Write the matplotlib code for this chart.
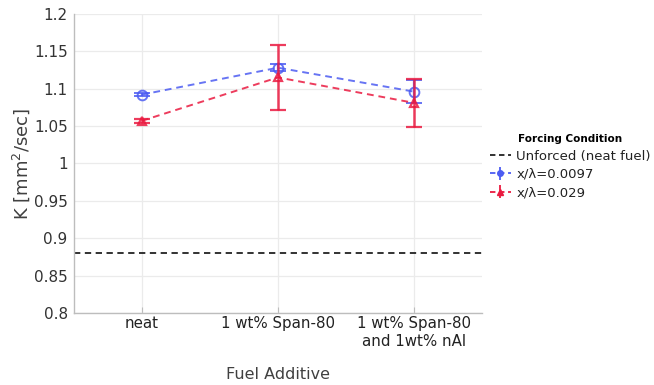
import matplotlib
matplotlib.use("Agg")
import matplotlib.pyplot as plt
from matplotlib.lines import Line2D

categories = ["neat", "1 wt% Span-80", "1 wt% Span-80\nand 1wt% nAl"]
blue_k = [1.092, 1.128, 1.096]
blue_err = [0.002, 0.005, 0.015]
red_k = [1.057, 1.115, 1.081]
red_err = [0.003, 0.043, 0.032]
unforced_k = 0.88
yticks = [0.8, 0.85, 0.9, 0.95, 1.0, 1.05, 1.1, 1.15, 1.2]
ytick_labels = ["0.8", "0.85", "0.9", "0.95", "1", "1.05", "1.1", "1.15", "1.2"]

blue = "#4c5cf2"
red = "#ea1a40"
text_col = "#404040"

plt.rcParams["font.family"] = ["DejaVu Sans"]
fig = plt.figure(figsize=(6.54, 3.85), dpi=100)
ax = fig.add_axes([0.113, 0.187, 0.624, 0.777])

x = list(range(1, len(categories) + 1))

ax.axhline(unforced_k, color="#222222", ls=(0, (3.5, 2.5)), lw=1.3, zorder=2)

ax.errorbar(x, blue_k, yerr=blue_err, color=blue, ls=(0, (3.5, 2.5)), lw=1.4,
            marker="o", ms=7, mfc="none", mew=1.4, capsize=6, capthick=1.6,
            elinewidth=1.6, alpha=0.85, zorder=3)
ax.errorbar(x, red_k, yerr=red_err, color=red, ls=(0, (3.5, 2.5)), lw=1.4,
            marker="^", ms=6, mfc="none", mew=1.6, capsize=6, capthick=1.8,
            elinewidth=1.8, alpha=0.85, zorder=4)

ax.set_xlim(0.5, 3.5)
ax.set_ylim(0.8, 1.2)
ax.set_xticks(x)
ax.set_xticklabels(categories, fontsize=10.8, color="#222222", linespacing=1.25)
ax.set_yticks(yticks)
ax.set_yticklabels(ytick_labels, fontsize=11, color="#333333")
ax.grid(True, color="#ebebeb", lw=0.9)
ax.set_axisbelow(True)
for s in ["top", "right"]:
    ax.spines[s].set_visible(False)
for s in ["left", "bottom"]:
    ax.spines[s].set_color("#bdbdbd")
    ax.spines[s].set_linewidth(1.0)
ax.tick_params(axis="x", length=4, direction="in", color="#bdbdbd", pad=2)
ax.tick_params(axis="y", length=0, pad=4.5)

ax.set_ylabel(r"K [mm$^2$/sec]", fontsize=13, color=text_col)
ax.yaxis.set_label_coords(-0.103, 0.5)
ax.set_xlabel("Fuel Additive", fontsize=11.5, color=text_col)
ax.xaxis.set_label_coords(0.5, -0.18)

handles = [
    Line2D([0], [0], color="#222222", ls=(0, (3, 2)), lw=1.3),
    ax.errorbar([], [], yerr=[], color=blue, ls=(0, (3, 2)), marker="o", ms=4,
                capsize=3, lw=1.3),
    ax.errorbar([], [], yerr=[], color=red, ls=(0, (3, 2)), marker="^", ms=4,
                capsize=3, lw=1.3),
]
leg = fig.legend(handles, ["Unforced (neat fuel)", "x/\u03bb=0.0097", "x/\u03bb=0.029"],
                 loc="upper left", bbox_to_anchor=(0.735, 0.675), frameon=False,
                 fontsize=9.5, title="Forcing Condition", handlelength=1.6,
                 handletextpad=0.4, labelspacing=0.4, borderpad=0.2)
leg.get_title().set_fontweight("bold")
leg.get_title().set_fontsize(7.5)
for t in leg.get_texts():
    t.set_color("#222222")

fig.savefig("out.png", dpi=100)
